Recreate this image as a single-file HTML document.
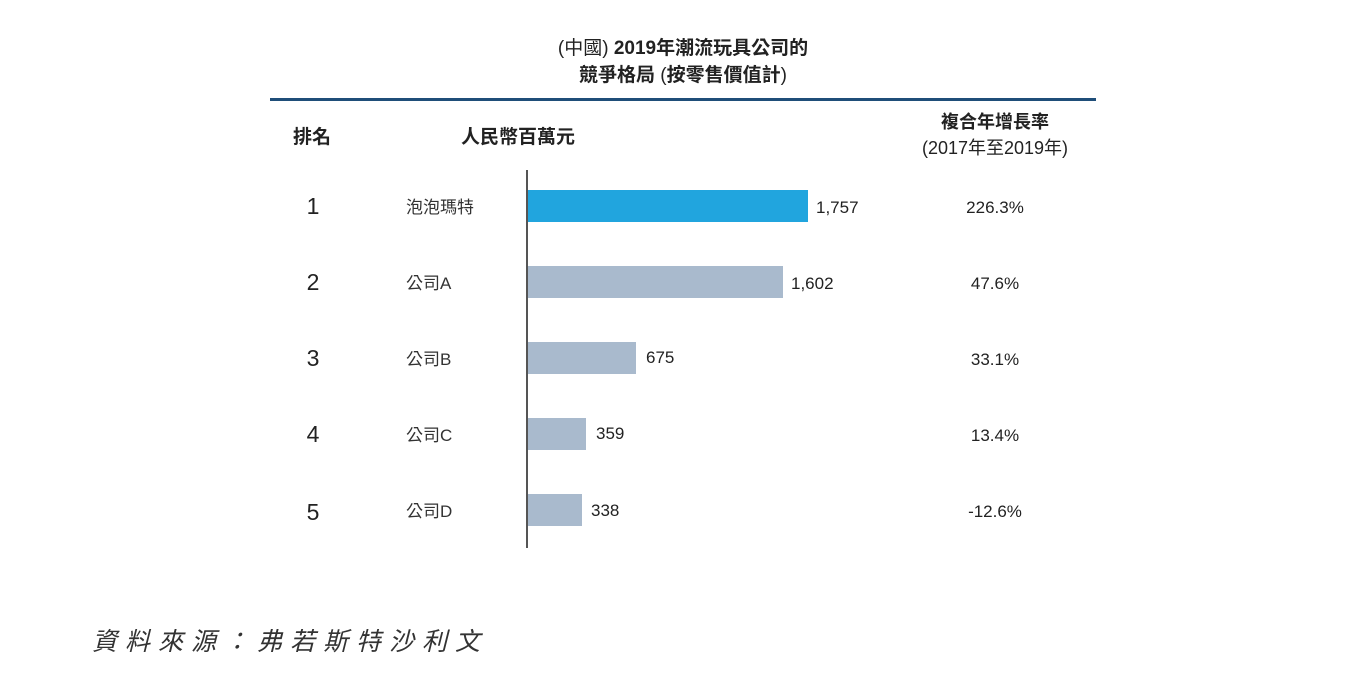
<!DOCTYPE html>
<html><head><meta charset="utf-8"><style>
body{margin:0;width:1348px;height:692px;background:#fff;position:relative;overflow:hidden;font-family:"Liberation Sans","Noto Sans CJK TC",sans-serif;color:#222}
.a{position:absolute;white-space:nowrap}
.c{transform:translateX(-50%)}
.bar{position:absolute;left:528px;height:32px;background:#a9bacd}
.r{font-size:23px;left:313px}
.n{font-size:17px;left:406px;color:#333}
.v{font-size:17px}
.g{font-size:17px;left:995px}
</style></head><body>
<div class="a c" style="left:683px;top:35px;font-size:19px;font-weight:bold;text-align:center;line-height:27px"><span style="font-weight:normal">(中國)</span> 2019年潮流玩具公司的<br>競爭格局 <span style="font-weight:normal">(</span>按零售價值計<span style="font-weight:normal">)</span></div>
<div class="a" style="left:270px;top:98px;width:826px;height:3px;background:#1f4e79"></div>
<div class="a" style="left:293px;top:122px;font-size:19px;font-weight:bold">排名</div>
<div class="a" style="left:461px;top:122px;font-size:19px;font-weight:bold">人民幣百萬元</div>
<div class="a c" style="left:995px;top:109px;font-size:18px;text-align:center;line-height:26px"><b>複合年增長率</b><br>(2017年至2019年)</div>
<div class="a" style="left:526px;top:170px;width:2px;height:378px;background:#555"></div>
<div class="bar" style="top:190px;width:280px;background:#21a5de"></div>
<div class="bar" style="top:266px;width:255px"></div>
<div class="bar" style="top:342px;width:108px"></div>
<div class="bar" style="top:418px;width:58px"></div>
<div class="bar" style="top:494px;width:54px"></div>
<div class="a c r" style="top:193px">1</div><div class="a n" style="top:193px">泡泡瑪特</div><div class="a v" style="left:816px;top:198px">1,757</div><div class="a c g" style="top:198px">226.3%</div>
<div class="a c r" style="top:269px">2</div><div class="a n" style="top:269px">公司A</div><div class="a v" style="left:791px;top:274px">1,602</div><div class="a c g" style="top:274px">47.6%</div>
<div class="a c r" style="top:345px">3</div><div class="a n" style="top:345px">公司B</div><div class="a v" style="left:646px;top:348px">675</div><div class="a c g" style="top:350px">33.1%</div>
<div class="a c r" style="top:421px">4</div><div class="a n" style="top:421px">公司C</div><div class="a v" style="left:596px;top:424px">359</div><div class="a c g" style="top:426px">13.4%</div>
<div class="a c r" style="top:499px">5</div><div class="a n" style="top:497px">公司D</div><div class="a v" style="left:591px;top:501px">338</div><div class="a c g" style="top:502px">-12.6%</div>
<div class="a" style="left:92px;top:622px;font-size:25px;font-style:italic;letter-spacing:8px;color:#333">資料來源：弗若斯特沙利文</div>
</body></html>
